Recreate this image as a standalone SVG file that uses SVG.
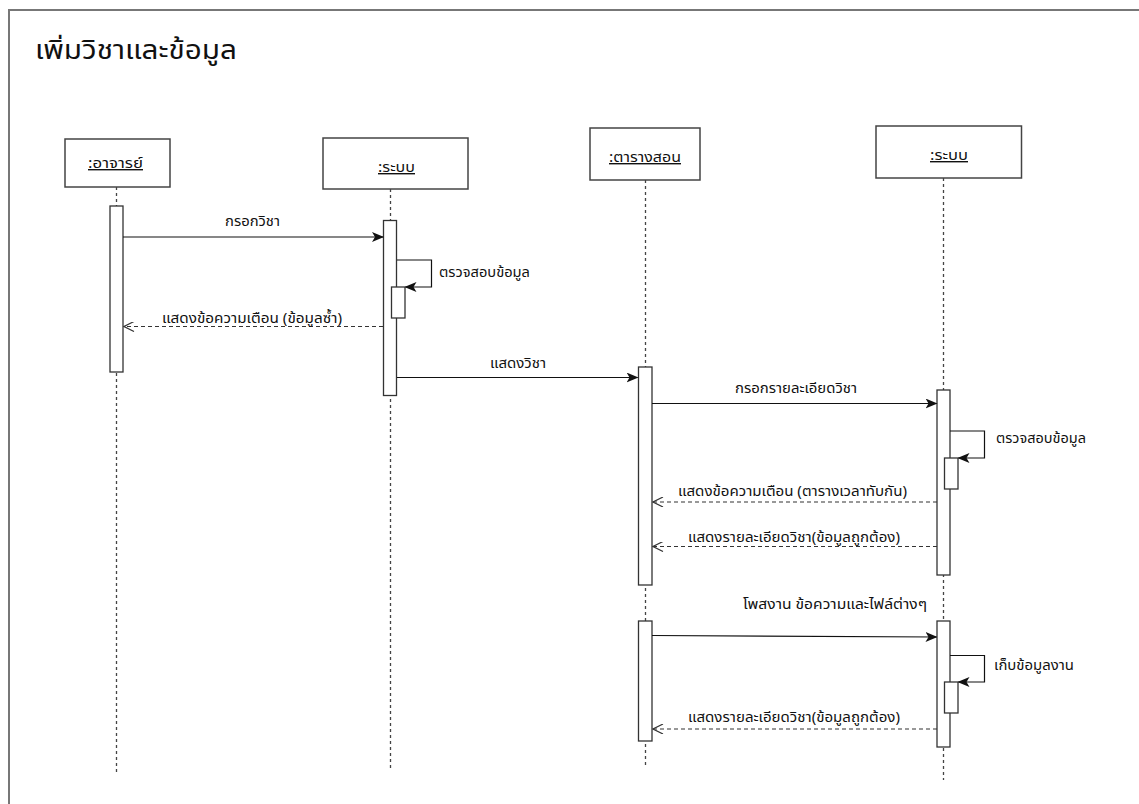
<svg xmlns="http://www.w3.org/2000/svg" width="1139" height="804" viewBox="0 0 1139 804">
<defs>
<style>
text{font-family:"Noto Sans","Noto Sans Thai",Tahoma,"DejaVu Sans",sans-serif;fill:#111;}
.lbl{font-size:14px;}
.head{font-size:14px;text-decoration:underline;}
.title{font-size:26px;}
.box{fill:#fff;stroke:#444;stroke-width:1.5;}
.act{fill:#fff;stroke:#333;stroke-width:1.3;}
.life{stroke:#444;stroke-width:1.3;stroke-dasharray:3,3;fill:none;}
.msg{stroke:#111;stroke-width:1.2;fill:none;marker-end:url(#solid);}
.ret{stroke:#333;stroke-width:1.1;fill:none;stroke-dasharray:4,3;marker-end:url(#open);}
.self{stroke:#111;stroke-width:1.2;fill:none;marker-end:url(#solid);}
</style>
<marker id="solid" viewBox="0 0 12 10" refX="11" refY="5" markerWidth="12" markerHeight="10" markerUnits="userSpaceOnUse" orient="auto">
<path d="M0,0 L12,5 L0,10 L3,5 Z" fill="#111"/>
</marker>
<marker id="open" viewBox="0 0 12 10" refX="11" refY="5" markerWidth="12" markerHeight="10" markerUnits="userSpaceOnUse" orient="auto">
<path d="M1,0 L11,5 L1,10" fill="none" stroke="#333" stroke-width="1.2"/>
</marker>
</defs>
<rect x="0" y="0" width="1139" height="804" fill="#fff"/>
<path d="M9,830 L9,10 L1160,10" fill="none" stroke="#777" stroke-width="2"/>
<text class="title" x="35" y="59" textLength="202" lengthAdjust="spacingAndGlyphs">เพิ่มวิชาและข้อมูล</text>

<g id="lifelines">
<line class="life" x1="116.5" y1="187" x2="116.5" y2="775"/>
<line class="life" x1="390.5" y1="189" x2="390.5" y2="771"/>
<line class="life" x1="645.5" y1="180" x2="645.5" y2="768"/>
<line class="life" x1="943.5" y1="178" x2="943.5" y2="780"/>
</g>

<g id="node-teacher">
<rect class="box" x="65" y="139" width="105" height="48"/>
<text class="head" x="88" y="168" textLength="55" lengthAdjust="spacingAndGlyphs">:อาจารย์</text>
<rect class="act" x="110" y="206" width="13" height="166"/>
</g>

<g id="node-system1">
<rect class="box" x="323" y="138" width="145" height="51"/>
<text class="head" x="378" y="172" textLength="37" lengthAdjust="spacingAndGlyphs">:ระบบ</text>
<rect class="act" x="383.5" y="220.5" width="13" height="175"/>
<rect class="act" x="391.5" y="287" width="13.5" height="31"/>
</g>

<g id="node-schedule">
<rect class="box" x="590" y="128" width="110" height="52"/>
<text class="head" x="609" y="162" textLength="72" lengthAdjust="spacingAndGlyphs">:ตารางสอน</text>
<rect class="act" x="638.5" y="367" width="13.5" height="218"/>
<rect class="act" x="638.5" y="621" width="13.5" height="120"/>
</g>

<g id="node-system2">
<rect class="box" x="876" y="126" width="145.5" height="52"/>
<text class="head" x="930" y="160" textLength="38" lengthAdjust="spacingAndGlyphs">:ระบบ</text>
<rect class="act" x="937" y="390" width="13" height="185"/>
<rect class="act" x="944.5" y="458" width="13.5" height="31"/>
<rect class="act" x="937" y="621" width="13" height="126"/>
<rect class="act" x="944.5" y="682" width="13.5" height="31"/>
</g>

<g id="connectors">
<line class="msg" x1="123" y1="237" x2="383" y2="237"/>
<text class="lbl" x="225" y="226" textLength="55" lengthAdjust="spacingAndGlyphs">กรอกวิชา</text>

<path class="self" d="M397,260 L431.5,260 L431.5,287 L405.5,287"/>
<text class="lbl" x="439" y="277" textLength="91" lengthAdjust="spacingAndGlyphs">ตรวจสอบข้อมูล</text>

<line class="ret" x1="383" y1="326.5" x2="124" y2="326.5"/>
<text class="lbl" x="162" y="323" textLength="180" lengthAdjust="spacingAndGlyphs">แสดงข้อความเตือน (ข้อมูลซ้ำ)</text>

<line class="msg" x1="397" y1="377.5" x2="637.5" y2="377.5"/>
<text class="lbl" x="490" y="368" textLength="56" lengthAdjust="spacingAndGlyphs">แสดงวิชา</text>

<line class="msg" x1="652" y1="403.5" x2="936.5" y2="403.5"/>
<text class="lbl" x="735" y="393" textLength="122" lengthAdjust="spacingAndGlyphs">กรอกรายละเอียดวิชา</text>

<path class="self" d="M950,431 L984.5,431 L984.5,458 L958.5,458"/>
<text class="lbl" x="996" y="443" textLength="90" lengthAdjust="spacingAndGlyphs">ตรวจสอบข้อมูล</text>

<line class="ret" x1="937" y1="502" x2="653" y2="502"/>
<text class="lbl" x="678" y="496" textLength="229" lengthAdjust="spacingAndGlyphs">แสดงข้อความเตือน (ตารางเวลาทับกัน)</text>

<line class="ret" x1="937" y1="546.5" x2="653" y2="546.5"/>
<text class="lbl" x="688" y="542" textLength="212" lengthAdjust="spacingAndGlyphs">แสดงรายละเอียดวิชา(ข้อมูลถูกต้อง)</text>

<path class="msg" d="M652,635.5 L936.5,637"/>
<text class="lbl" x="743" y="609" textLength="184" lengthAdjust="spacingAndGlyphs">โพสงาน ข้อความและไฟล์ต่างๆ</text>

<path class="self" d="M950,655.5 L984.5,655.5 L984.5,682 L958.5,682"/>
<text class="lbl" x="994" y="670" textLength="80" lengthAdjust="spacingAndGlyphs">เก็บข้อมูลงาน</text>

<line class="ret" x1="937" y1="729" x2="653" y2="729"/>
<text class="lbl" x="688" y="722" textLength="212" lengthAdjust="spacingAndGlyphs">แสดงรายละเอียดวิชา(ข้อมูลถูกต้อง)</text>
</g>
</svg>
